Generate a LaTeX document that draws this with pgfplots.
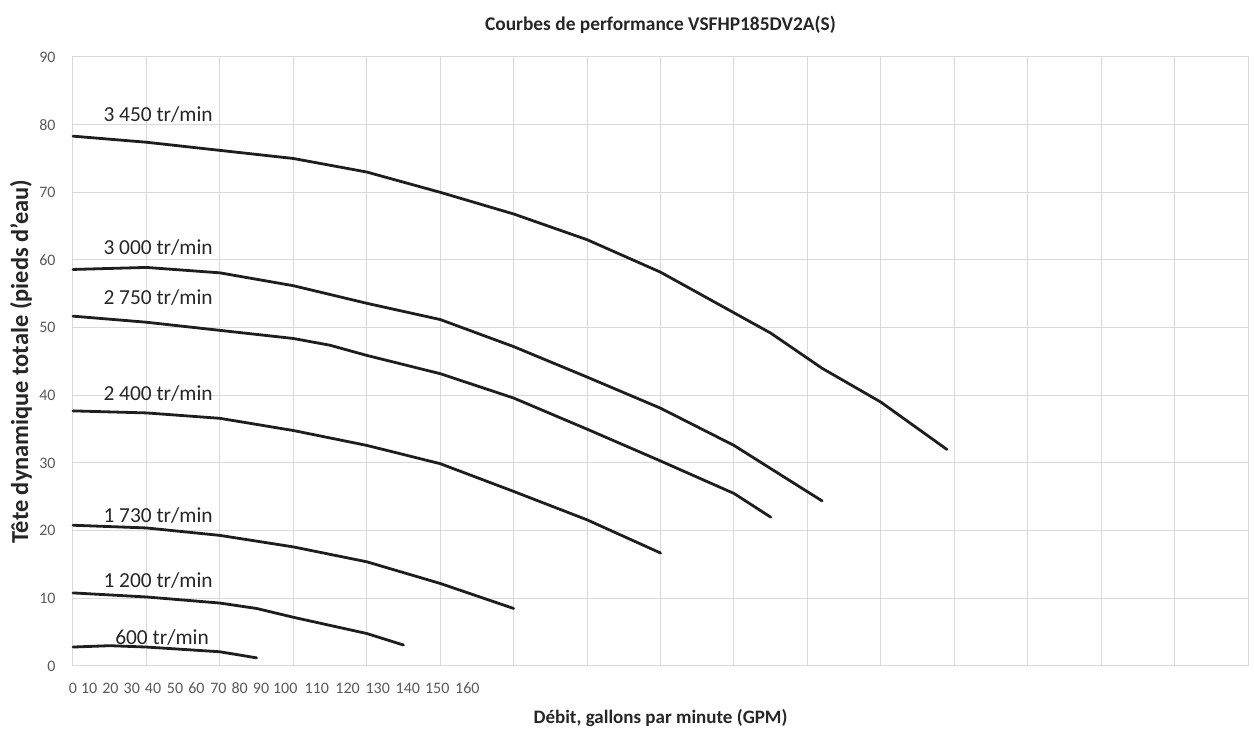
\documentclass[border=0pt]{standalone}
\usepackage{fontspec}
\setmainfont{Carlito}
\usepackage{pgfplots}
\pgfplotsset{compat=1.18}
\definecolor{gridgrey}{HTML}{D9D9D9}
\definecolor{ticktext}{HTML}{595959}
\definecolor{curve}{HTML}{1E1E1E}
\definecolor{labeltext}{HTML}{262626}

\pgfplotsset{pumpcurve/.style={draw=curve, line width=1.4pt, line join=round, line cap=round, sharp plot, no marks, solid}}

\begin{document}
\begin{tikzpicture}
\useasboundingbox (0,0) rectangle (627pt,365.5pt);
\begin{axis}[
    at={(36.5pt,32.5pt)}, anchor=south west,
    width=587.5pt, height=304.5pt, scale only axis,
    xmin=0, xmax=160, ymin=0, ymax=90,
    xtick={0,10,...,160}, xticklabels={},
    ytick={0,10,...,90},
    extra x ticks={0,2.2,5.1,8.0,10.9,13.9,16.8,19.8,22.7,25.6,28.9,33.2,37.4,41.5,45.6,49.6,53.7},
    extra x tick labels={0,10,20,30,40,50,60,70,80,90,100,110,120,130,140,150,160},
    extra x tick style={grid=none, xticklabel style={anchor=center, yshift=-11pt}},
    major tick length=0pt,
    grid=major, grid style={gridgrey, line width=0.5pt},
    axis line style={gridgrey, line width=0.5pt},
    tick label style={font=\fontsize{8}{10}\selectfont, text=ticktext},
    yticklabel style={anchor=east, inner sep=0pt, xshift=-8.5pt},
    /pgf/number format/assume math mode=true,
    title={Courbes de performance VSFHP185DV2A(S)},
    title style={at={(0.5,1)}, anchor=center, yshift=10pt, font=\fontsize{9.7}{11}\selectfont\bfseries, text=labeltext},
    xlabel={Débit, gallons par minute (GPM)},
    xlabel style={at={(0.5,0)}, anchor=center, yshift=-26pt, font=\fontsize{9.5}{11}\selectfont\bfseries, text=labeltext},
    ylabel={Tête dynamique totale (pieds d’eau)},
    ylabel style={at={(0,0.5)}, anchor=center, yshift=26pt, font=\fontsize{12.2}{14}\selectfont\bfseries, text=labeltext},
    clip=false,
]
% 3 450 tr/min
\addplot[pumpcurve] coordinates {(0,78.3) (10,77.4) (20,76.2) (30,75.0) (40,73.0) (50,70.0) (60,66.8) (70,63.0) (80,58.2) (90,52.2) (95,49.2) (102,44.0) (110,39.0) (119,32.0)};
% 3 000 tr/min
\addplot[pumpcurve] coordinates {(0,58.6) (10,58.9) (20,58.1) (30,56.2) (40,53.6) (50,51.2) (60,47.2) (70,42.7) (80,38.1) (90,32.6) (99.5,26.1) (102,24.4)};
% 2 750 tr/min
\addplot[pumpcurve] coordinates {(0,51.7) (10,50.8) (20,49.6) (30,48.4) (35,47.4) (40,45.9) (50,43.2) (60,39.6) (70,35.0) (80,30.3) (90,25.5) (95,22.0)};
% 2 400 tr/min
\addplot[pumpcurve] coordinates {(0,37.7) (10,37.4) (20,36.6) (30,34.8) (40,32.6) (50,29.9) (60,25.8) (70,21.6) (80,16.7)};
% 1 730 tr/min
\addplot[pumpcurve] coordinates {(0,20.8) (10,20.4) (20,19.3) (30,17.6) (40,15.4) (50,12.2) (60,8.5)};
% 1 200 tr/min
\addplot[pumpcurve] coordinates {(0,10.8) (10,10.2) (20,9.3) (25,8.5) (30,7.2) (40,4.8) (45,3.1)};
% 600 tr/min
\addplot[pumpcurve] coordinates {(0,2.8) (5,3.0) (10,2.8) (20,2.1) (25,1.2)};

\begin{scope}[every node/.style={anchor=west, inner sep=0pt, font=\fontsize{10.7}{12}\selectfont, text=labeltext}]
\node at (axis cs:4.1,81.5) {3 450 tr/min};
\node at (axis cs:4.1,61.9) {3 000 tr/min};
\node at (axis cs:4.1,54.5) {2 750 tr/min};
\node at (axis cs:4.1,40.3) {2 400 tr/min};
\node at (axis cs:4.1,22.3) {1 730 tr/min};
\node at (axis cs:4.1,12.6) {1 200 tr/min};
\node at (axis cs:5.7,4.2) {600 tr/min};
\end{scope}
\end{axis}
\end{tikzpicture}
\end{document}
